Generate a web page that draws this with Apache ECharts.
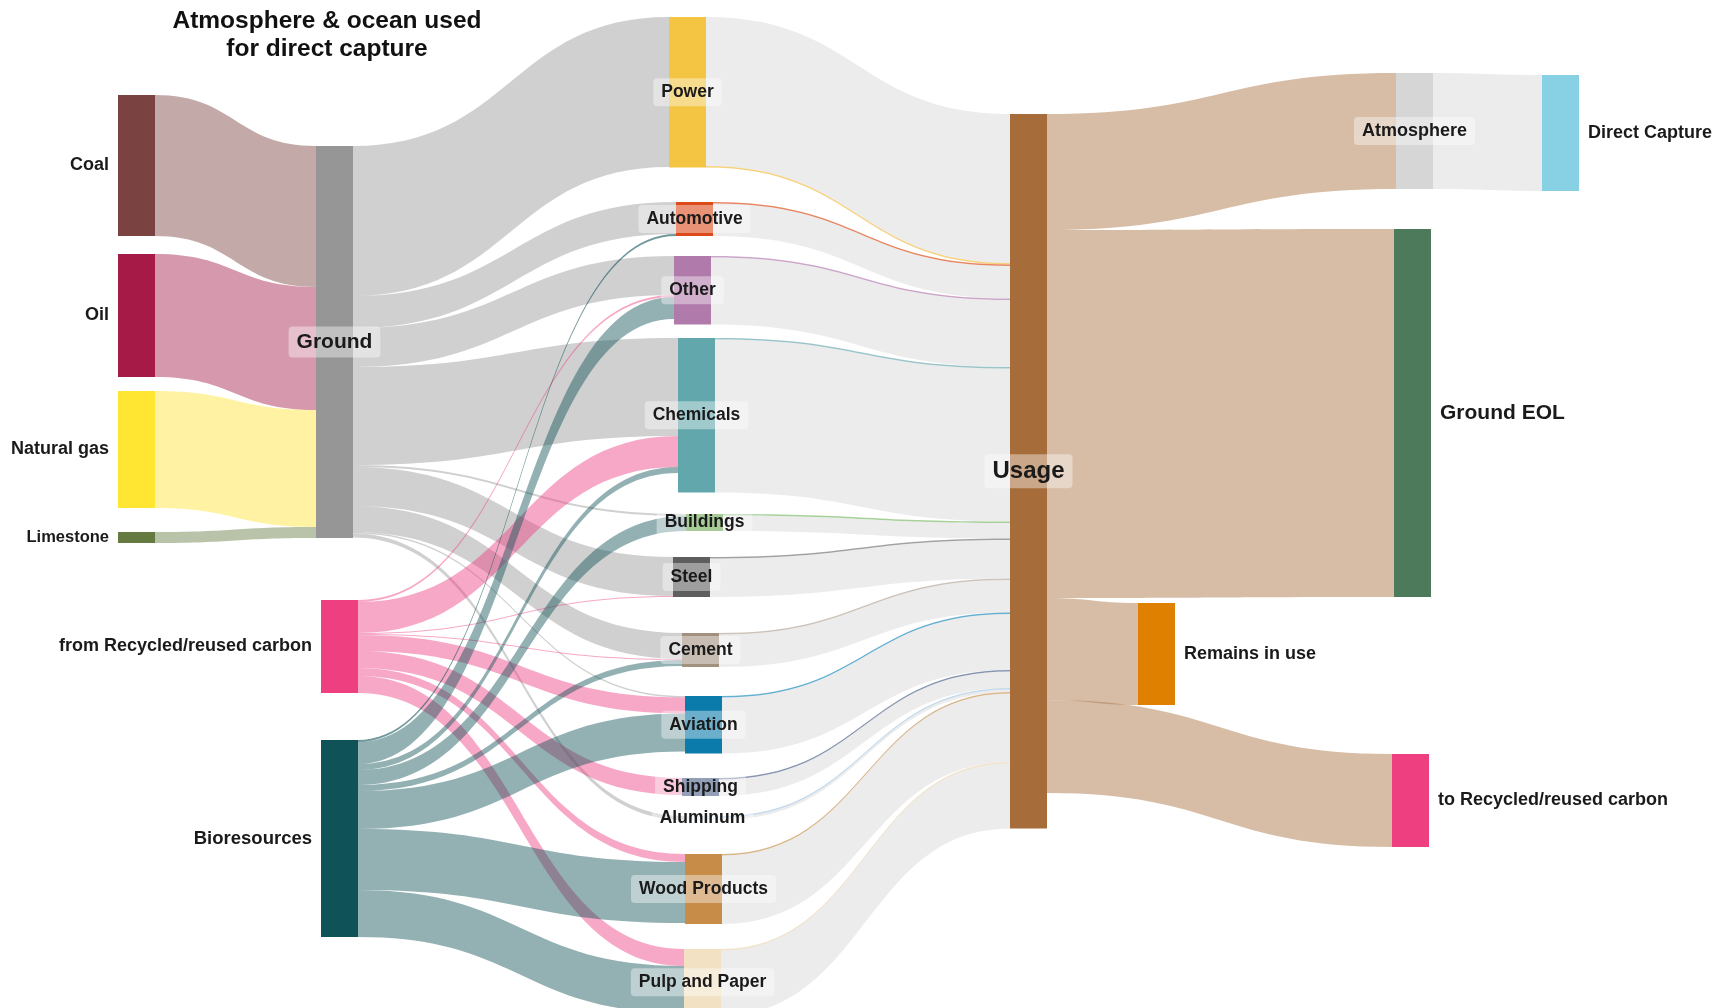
<!DOCTYPE html>
<html>
<head>
<meta charset="utf-8">
<script src="https://cdn.jsdelivr.net/npm/echarts@6/dist/echarts.min.js"></script>
<style>
  html, body { margin: 0; padding: 0; background: #ffffff; }
  #chart { width: 1716px; height: 1008px; }
</style>
</head>
<body>
<div id="chart"></div>
<script>
// ---- Carbon flows: sources -> carriers -> sectors -> usage -> end of life ----

// Fossil sources feeding the "Ground" carrier
const fossilSources = ['Coal', 'Oil', 'Natural gas', 'Limestone'];
const fossilToGround = [141, 123, 117, 11];

// Carriers
const groundName = 'Ground';
const recycledName = 'from Recycled/reused carbon';
const bioName = 'Bioresources';

// Sectors
const sectors = ['Power', 'Automotive', 'Other', 'Chemicals', 'Buildings', 'Steel', 'Cement',
                 'Aviation', 'Shipping', 'Aluminum', 'Wood Products', 'Pulp and Paper'];
const groundToSector   = [150, 32, 39, 98, 2, 39, 26, 1.5, 0, 4, 0, 0];
const recycledToSector = [0, 0, 2, 31, 0, 1, 1, 16, 17, 0, 8, 17];
const bioToSector      = [0, 2, 22, 6, 15, 0, 6, 38, 0, 0, 61, 47];

// Each sector reaches Usage through a main stream and a thin traced stream
const sectorToUsage      = [149, 32.5, 67, 153, 15.5, 38.5, 32.5, 56, 16.5, 2.5, 68.5, 65];
const sectorTraceToUsage = [1.5, 1.5, 1.5, 1.5, 1.5, 1.5, 1.5, 1.5, 1.5, 1.5, 1.5, 1.5];

// Usage and end of life
const usageName = 'Usage';
const endOfLife = ['Atmosphere', 'Ground EOL', 'Remains in use', 'to Recycled/reused carbon'];
const usageToEndOfLife = [116, 368, 102, 93];
const captureName = 'Direct Capture';
const atmosphereToCapture = 116;

// ---- Styling ----
const fossilColors = ['#7a4241', '#a51a46', '#ffe633', '#647a40'];
const fossilLinkColors = ['rgba(122,66,65,0.45)', 'rgba(165,26,70,0.45)', 'rgba(255,228,50,0.45)', 'rgba(100,122,64,0.45)'];
const sectorColors = ['#f4c542', '#dc4a1a', '#b07aab', '#62a7ab', '#6eaa53', '#5e5e5e', '#a39180',
                      '#0b7bab', '#4a5f86', '#edf2f7', '#c68c48', '#f2e1c3'];
const sectorTraceColors = ['#f2c65a', '#e2683c', '#c08fbd', '#7fb6ba', '#8fc47e', '#8a8a8a', '#c0b4a8',
                           '#3e9cc7', '#6a7b9c', '#b5d0e6', '#d0a46a', '#ecdcbc'];
const endOfLifeColors = ['#d6d6d6', '#4c7a5a', '#e08000', '#ee3f80'];

// Node placement inside the layout box (converted to fractions of width / height)
const W = 1716;
const placeX = {
  'Coal': 118, 'Oil': 118, 'Natural gas': 118, 'Limestone': 118,
  'Ground': 316, 'from Recycled/reused carbon': 321, 'Bioresources': 321,
  'Power': 669, 'Automotive': 676, 'Other': 674, 'Chemicals': 678, 'Buildings': 686, 'Steel': 673,
  'Cement': 682, 'Aviation': 685, 'Shipping': 682, 'Aluminum': 684, 'Wood Products': 685, 'Pulp and Paper': 684,
  'Usage': 1010,
  'Atmosphere': 1396, 'Ground EOL': 1394, 'Remains in use': 1138, 'to Recycled/reused carbon': 1392,
  'Direct Capture': 1542
};
const placeY = {
  'Coal': 95, 'Oil': 254, 'Natural gas': 391, 'Limestone': 532,
  'Ground': 146, 'from Recycled/reused carbon': 600, 'Bioresources': 740,
  'Power': 17, 'Automotive': 202, 'Other': 256, 'Chemicals': 338, 'Buildings': 514, 'Steel': 557,
  'Cement': 633, 'Aviation': 696, 'Shipping': 778, 'Aluminum': 816, 'Wood Products': 854, 'Pulp and Paper': 949,
  'Usage': 114,
  'Atmosphere': 73, 'Ground EOL': 229, 'Remains in use': 603, 'to Recycled/reused carbon': 754,
  'Direct Capture': 75
};

const FONT = '"Liberation Sans", Arial, Helvetica, sans-serif';
const TEXT = '#1a1a1a';
const boxLabel = (size) => ({
  show: true, position: 'inside', fontSize: size, fontWeight: 'bold', fontFamily: FONT, color: TEXT,
  backgroundColor: 'rgba(255,255,255,0.4)', borderRadius: 4, padding: [5, 8]
});
const sideLabel = (pos, size) => ({
  show: true, position: pos, distance: 9, fontSize: size, fontWeight: 'bold', fontFamily: FONT, color: TEXT
});
const leftSizes = { 'Coal': 18, 'Oil': 18, 'Natural gas': 18, 'Limestone': 16.5 };

// ---- Nodes ----
const nodes = [];
fossilSources.forEach((n, i) => nodes.push({ name: n, depth: 0, itemStyle: { color: fossilColors[i] }, label: sideLabel('left', leftSizes[n]) }));
nodes.push({ name: groundName, depth: 1, itemStyle: { color: '#969696' }, label: boxLabel(21) });
nodes.push({ name: recycledName, depth: 1, itemStyle: { color: '#ee3f80' }, label: sideLabel('left', 18) });
nodes.push({ name: bioName, depth: 1, itemStyle: { color: '#0f5257' }, label: sideLabel('left', 18.5) });
sectors.forEach((n, i) => nodes.push({ name: n, depth: 2, itemStyle: { color: sectorColors[i] }, label: boxLabel(17.5) }));
nodes.push({ name: usageName, depth: 3, itemStyle: { color: '#a66d3a' }, label: boxLabel(24) });
endOfLife.forEach((n, i) => nodes.push({
  name: n, depth: 5, itemStyle: { color: endOfLifeColors[i] },
  label: i === 0 ? boxLabel(18) : sideLabel('right', i === 1 ? 21 : 18)
}));
nodes.push({ name: captureName, depth: 6, itemStyle: { color: '#88d0e4' }, label: sideLabel('right', 18) });

// ---- Links ----
const links = [];
const addLink = (s, t, v, color, opacity) => {
  if (v > 0) links.push({ source: s, target: t, value: v, lineStyle: { color: color, opacity: opacity == null ? 1 : opacity } });
};
fossilSources.forEach((n, i) => addLink(n, groundName, fossilToGround[i], fossilLinkColors[i]));
sectors.forEach((n, i) => addLink(groundName, n, groundToSector[i], 'rgba(150,150,150,0.45)'));
sectors.forEach((n, i) => addLink(recycledName, n, recycledToSector[i], 'rgba(238,63,128,0.45)'));
sectors.forEach((n, i) => addLink(bioName, n, bioToSector[i], bioToSector[i] < 3 ? 'rgba(15,82,87,0.6)' : 'rgba(15,82,87,0.45)'));
sectors.forEach((n, i) => {
  const grey = 'rgba(195,195,195,0.32)';
  if (i === 0) {
    addLink(n, usageName, sectorToUsage[i], grey);
    addLink(n, usageName, sectorTraceToUsage[i], sectorTraceColors[i], 0.8);
  } else {
    addLink(n, usageName, sectorTraceToUsage[i], sectorTraceColors[i], 0.8);
    addLink(n, usageName, sectorToUsage[i], grey);
  }
});
endOfLife.forEach((n, i) => addLink(usageName, n, usageToEndOfLife[i], 'rgba(166,109,58,0.45)'));
addLink(endOfLife[0], captureName, atmosphereToCapture, 'rgba(200,200,200,0.35)');

// Layout box height: the fullest column fills it exactly (no gaps between nodes)
const nodeSize = {};
nodes.forEach(n => { nodeSize[n.name] = { i: 0, o: 0 }; });
links.forEach(l => { nodeSize[l.source].o += l.value; nodeSize[l.target].i += l.value; });
const colSum = {};
nodes.forEach(n => {
  const v = Math.max(nodeSize[n.name].i, nodeSize[n.name].o);
  colSum[n.depth] = (colSum[n.depth] || 0) + v;
});
const H = Math.max.apply(null, Object.values(colSum));

nodes.forEach(n => {
  n.localX = placeX[n.name] / W;
  n.localY = placeY[n.name] / H;
});

const chart = echarts.init(document.getElementById('chart'));
chart.setOption({
  backgroundColor: '#ffffff',
  animation: false,
  graphic: [{
    type: 'text',
    x: 327, y: 7,
    silent: true,
    style: {
      text: 'Atmosphere & ocean used\nfor direct capture',
      fontSize: 24.5, fontWeight: 'bold', fontFamily: FONT,
      lineHeight: 28,
      align: 'center', textAlign: 'center',
      verticalAlign: 'top', textVerticalAlign: 'top',
      fill: '#111111'
    }
  }],
  series: [{
    type: 'sankey',
    left: 0, top: 0, width: W, height: H,
    nodeWidth: 37,
    nodeGap: 0,
    nodeAlign: 'left',
    layoutIterations: 0,
    draggable: false,
    emphasis: { disabled: true },
    itemStyle: { borderWidth: 0 },
    lineStyle: { curveness: 0.5, opacity: 1 },
    data: nodes,
    links: links
  }]
});
</script>
</body>
</html>
